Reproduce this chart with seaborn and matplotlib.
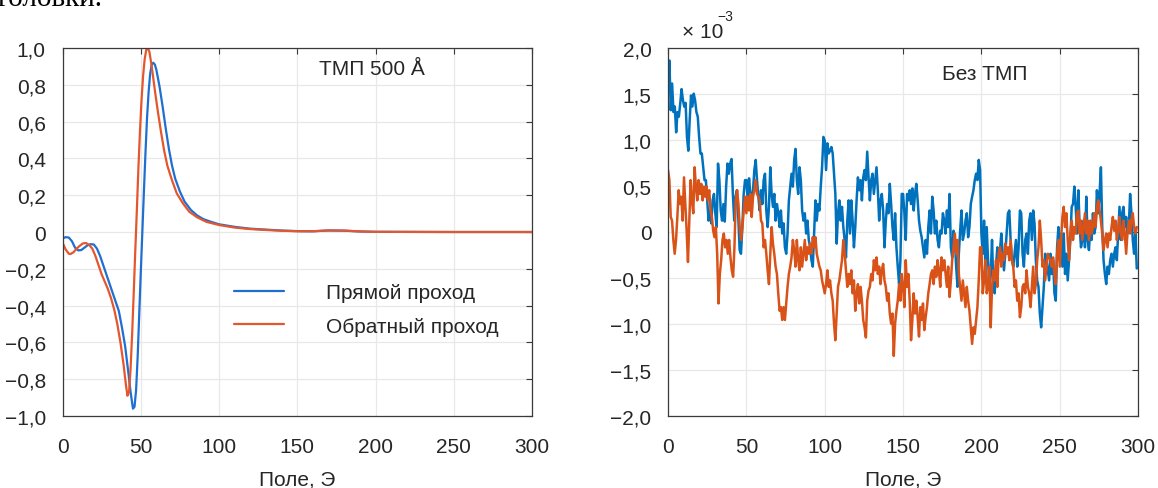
import numpy as np
import matplotlib
matplotlib.use("Agg")
import matplotlib.pyplot as plt
import seaborn as sns
from matplotlib.ticker import FuncFormatter, MultipleLocator

# ---- left panel: TMP 500 A (normalised signal vs field, Oe) ----
fwd_field = [0, 2, 4, 6, 8, 10, 12, 14, 16, 18, 20, 22, 24, 26, 28, 30, 32, 34, 36, 38,
             40, 42, 43.5, 45, 46, 47, 48, 49, 50, 51, 52, 53, 54, 55, 56, 57, 58, 59, 60,
             62, 64, 66, 68, 70, 72, 75, 78, 82, 86, 90, 95, 100, 110, 120, 130, 140, 150,
             160, 170, 180, 190, 200, 250, 300]
fwd_signal = [-0.035, -0.028, -0.03, -0.05, -0.085, -0.10, -0.098, -0.085, -0.072, -0.066,
              -0.068, -0.09, -0.13, -0.18, -0.23, -0.28, -0.33, -0.38, -0.43, -0.52,
              -0.62, -0.76, -0.87, -0.96, -0.95, -0.86, -0.68, -0.45, -0.22, 0.0, 0.22,
              0.43, 0.62, 0.76, 0.86, 0.91, 0.92, 0.91, 0.88, 0.79, 0.68, 0.56, 0.45, 0.36,
              0.29, 0.22, 0.165, 0.12, 0.09, 0.07, 0.055, 0.042, 0.028, 0.018, 0.013, 0.008,
              0.005, 0.004, 0.008, 0.007, 0.003, 0.001, 0.0, 0.0]

rev_field = [0, 2, 4, 5, 7, 9, 11, 13, 15, 17, 19, 21, 23, 25, 27, 29, 31, 33, 35, 37, 39,
             40.5, 41.5, 42.5, 43.5, 44.5, 45.5, 46.5, 47.5, 48.5, 49.5, 50.5, 51.5, 52.5,
             53.5, 54.5, 55.5, 57, 59, 61, 63, 65, 67, 70, 73, 77, 81, 86, 92, 100, 110,
             120, 130, 140, 150, 160, 170, 180, 190, 200, 250, 300]
rev_signal = [-0.058, -0.095, -0.118, -0.12, -0.11, -0.09, -0.075, -0.062, -0.06, -0.07,
              -0.09, -0.13, -0.18, -0.23, -0.27, -0.31, -0.36, -0.42, -0.50, -0.60, -0.72,
              -0.83, -0.89, -0.87, -0.74, -0.55, -0.33, -0.10, 0.12, 0.35, 0.55, 0.72, 0.85,
              0.94, 0.99, 1.0, 0.98, 0.90, 0.77, 0.65, 0.54, 0.44, 0.36, 0.28, 0.21, 0.155,
              0.11, 0.08, 0.055, 0.038, 0.024, 0.016, 0.011, 0.007, 0.004, 0.004, 0.009,
              0.008, 0.003, 0.001, 0.0, 0.0]

# ---- right panel: no TMP, values in units of 1e-3, read in 50 Oe pieces ----
fwd_0_50 = [1.54, 1.86, 1.32, 1.61, 1.30, 1.36, 1.08, 1.30, 1.25, 1.39, 1.55, 1.43, 1.36,
            1.40, 1.03, 0.88, 1.21, 1.48, 1.36, 1.50, 1.43, 1.30, 1.25, 1.03, 0.85, 0.85,
            0.70, 0.56, 0.56, 0.34, 0.12, 0.23, 0.09, 0.34, 0.41, 0.20, 0.05, 0.74, 0.56,
            0.23, 0.12, 0.30, 0.11, 0.49, 0.74, 0.63, 0.74, 0.79, 0.41, 0.12, 0.38, 0.45,
            0.16, -0.20, -0.24, 0.05, 0.41, 0.56]
fwd_50_100 = [0.56, 0.34, 0.58, 0.41, 0.34, 0.45, 0.67, 0.78, 0.56, 0.38, 0.23, 0.45, 0.30,
              0.56, 0.63, 0.23, 0.05, 0.27, 0.70, 0.41, 0.27, 0.41, 0.12, 0.30, 0.20, 0.05,
              0.23, -0.02, 0.09, -0.17, -0.24, -0.02, 0.34, 0.49, 0.63, 0.49, 0.78, 0.90,
              0.56, 0.41, 0.70, 0.56, 0.23, 0.12, 0.20, -0.02, 0.12, -0.09, -0.17, -0.31,
              -0.38, -0.02, 0.34, 0.12, 0.30, 0.23, 0.49, 0.70, 1.03]
fwd_100_150 = [0.99, 0.67, 0.96, 0.85, 0.88, 0.92, 0.85, 0.63, 0.41, -0.13, 0.20, 0.34,
               0.12, 0.27, 0.05, -0.09, -0.28, 0.12, 0.34, -0.02, 0.34, 0.12, -0.17, 0.05,
               0.34, 0.59, 0.45, 0.56, 0.34, 0.59, 0.67, 0.56, 0.87, 0.59, 0.34, 0.56, 0.63,
               0.41, 0.56, 0.70, 0.45, 0.12, 0.34, 0.41, 0.23, -0.17, 0.12, 0.30, 0.20, 0.52,
               0.30, 0.05, -0.09, 0.20, -0.17, -0.38, -0.57, -0.31, 0.41]
fwd_150_200 = [0.41, 0.20, -0.09, 0.41, 0.34, 0.45, 0.30, 0.47, 0.23, 0.41, 0.52, 0.34,
               0.12, 0.01, -0.06, -0.17, -0.28, -0.09, -0.24, 0.05, 0.23, -0.02, 0.38, 0.23,
               -0.02, 0.12, -0.09, -0.17, 0.01, -0.02, 0.20, 0.12, -0.02, 0.23, 0.05, 0.41,
               -0.17, -0.28, 0.01, -0.09, -0.38, -0.60, -0.24, 0.01, 0.23, -0.09, -0.02,
               0.12, 0.20, -0.06, 0.05, 0.30, 0.38, 0.45, 0.56, 0.63, 0.56, 0.78, 0.67]
fwd_200_250 = [-0.02, -0.24, 0.12, -0.38, 0.05, -0.31, -0.60, -0.46, -0.09, -0.60, -0.67,
               -0.38, -0.17, -0.31, -0.20, -0.02, -0.24, -0.42, -0.24, -0.02, 0.20, 0.23,
               -0.09, -0.31, -0.38, -0.24, -0.09, -0.38, -0.17, 0.23, 0.20, -0.24, -0.38,
               -0.09, -0.02, -0.24, 0.12, 0.20, -0.09, 0.23, 0.09, -0.31, -0.53, -0.60,
               -0.89, -1.04, -0.82, -0.60, -0.24, -0.31, -0.42, -0.53, -0.24, -0.46, -0.31,
               -0.67, -0.75, -0.17, 0.05]
fwd_250_300 = [-0.31, -0.02, -0.38, -0.02, -0.46, -0.24, -0.53, -0.31, -0.09, 0.27, 0.30,
               0.49, 0.27, -0.02, 0.45, 0.05, -0.17, -0.09, 0.12, -0.17, 0.38, -0.09, -0.20,
               0.05, -0.09, 0.20, -0.02, 0.05, 0.45, 0.20, 0.41, 0.70, 0.05, -0.31, -0.46,
               -0.57, -0.38, -0.46, -0.31, -0.24, -0.38, -0.24, -0.17, -0.31, -0.02, 0.27,
               -0.09, 0.20, 0.27, 0.05, 0.16, -0.02, 0.05, 0.41, 0.20, -0.09, -0.24, -0.02,
               -0.40]

rev_0_50 = [0.67, 0.56, 0.16, 0.12, -0.09, -0.24, -0.09, 0.16, 0.45, 0.30, 0.38, 0.12,
            0.59, 0.30, 0.01, -0.33, 0.12, 0.56, 0.34, 0.20, 0.70, 0.49, 0.34, 0.56, 0.41,
            0.52, 0.34, 0.49, 0.38, 0.49, 0.34, 0.45, 0.23, 0.16, 0.01, -0.06, 0.05, -0.24,
            -0.78, -0.46, -0.31, -0.09, -0.02, -0.17, -0.09, -0.24, -0.09, -0.28, -0.42,
            -0.49, -0.17, 0.34, 0.45, 0.30, 0.05, -0.09, 0.05, 0.23, 0.38]
rev_50_100 = [0.20, 0.38, 0.23, 0.41, 0.16, 0.38, 0.45, 0.56, 0.41, 0.38, 0.34, 0.12, 0.09,
              -0.17, -0.09, -0.24, -0.42, -0.57, -0.24, 0.05, -0.13, -0.24, -0.38, -0.46,
              -0.67, -0.86, -0.82, -0.96, -0.82, -0.96, -0.78, -0.60, -0.46, -0.38, -0.28,
              -0.09, -0.20, -0.38, -0.09, -0.31, -0.42, -0.17, -0.38, -0.24, -0.09, -0.31,
              -0.17, -0.24, -0.13, -0.24, -0.06, -0.17, -0.06, -0.24, -0.31, -0.38, -0.42,
              -0.53, -0.60]
rev_100_150 = [-0.67, -0.57, -0.42, -0.60, -0.53, -0.67, -0.75, -1.00, -1.18, -0.89, -0.60,
               -0.53, -0.42, -0.31, -0.09, -0.24, -0.42, -0.60, -0.46, -0.57, -0.42, -0.67,
               -0.53, -0.86, -0.67, -0.57, -0.78, -0.60, -0.75, -0.96, -1.04, -1.15, -0.75,
               -0.64, -0.60, -0.46, -0.53, -0.31, -0.42, -0.28, -0.46, -0.38, -0.57, -0.42,
               -0.35, -0.53, -0.60, -0.75, -0.67, -0.89, -1.00, -0.89, -1.35, -1.00, -0.86,
               -0.75, -0.57, -0.75, -0.46]
rev_150_200 = [-0.60, -0.82, -0.31, -0.60, -0.46, -0.75, -1.18, -0.96, -0.67, -0.89, -0.75,
               -0.93, -1.14, -0.82, -0.96, -0.78, -1.07, -0.93, -0.82, -0.67, -0.57, -0.46,
               -0.42, -0.57, -0.38, -0.49, -0.31, -0.42, -0.60, -0.28, -0.42, -0.31, -0.46,
               -0.60, -0.38, -0.71, -0.53, -0.31, -0.17, -0.02, -0.24, -0.09, -0.46, -0.60,
               -0.75, -0.53, -0.67, -0.82, -0.60, -0.75, -0.86, -1.04, -1.22, -1.04, -1.11,
               -0.96, -0.82, -0.53, -0.17]
rev_200_250 = [-0.17, -0.67, -0.53, -0.31, -0.67, -0.60, -0.38, -1.04, -0.60, -0.42, -0.53,
               -0.31, -0.60, -0.24, -0.17, -0.38, -0.24, -0.31, -0.13, -0.24, -0.17, -0.31,
               -0.09, -0.31, -0.38, -0.60, -0.53, -0.75, -0.67, -0.93, -0.82, -0.60, -0.57,
               -0.67, -0.42, -0.60, -0.67, -0.82, -0.60, -0.38, -0.67, -0.57, -0.31, -0.17,
               0.12, -0.09, -0.38, -0.31, -0.53, -0.38, -0.24, -0.28, -0.31, -0.38, -0.28,
               -0.46, -0.57, -0.24, -0.09]
rev_250_300 = [-0.38, -0.09, 0.16, 0.27, 0.05, 0.20, -0.09, -0.31, -0.02, 0.12, -0.09, 0.05,
               -0.02, 0.20, 0.23, -0.02, 0.12, -0.09, 0.05, 0.20, -0.02, 0.12, -0.09, 0.12,
               -0.02, 0.05, 0.20, 0.05, 0.27, 0.34, 0.23, 0.12, -0.02, -0.20, -0.09, -0.02,
               -0.17, -0.02, -0.09, 0.05, 0.16, 0.01, 0.12, -0.09, 0.01, 0.16, -0.02, -0.09,
               0.12, -0.02, -0.24, -0.02, 0.12, -0.02, 0.12, 0.20, 0.05, -0.02, 0.05]

fwd_pieces = [fwd_0_50, fwd_50_100, fwd_100_150, fwd_150_200, fwd_200_250, fwd_250_300]
rev_pieces = [rev_0_50, rev_50_100, rev_100_150, rev_150_200, rev_200_250, rev_250_300]


def join_pieces(pieces):
    xs, ys = [], []
    for k, p in enumerate(pieces):
        xs.append(np.linspace(50 * k, 50 * (k + 1), len(p), endpoint=False))
        ys.append(p)
    return np.concatenate(xs), np.concatenate(ys)


noise_fwd_x, noise_fwd_y = join_pieces(fwd_pieces)
noise_rev_x, noise_rev_y = join_pieces(rev_pieces)

sns.set_theme(style="whitegrid")
plt.rcParams["font.family"] = ["Liberation Sans Narrow", "Liberation Sans", "DejaVu Sans"]
plt.rcParams["axes.unicode_minus"] = True

FS = 15
TXT = "#262626"


def comma(v, pos):
    if abs(v) < 1e-9:
        return "0"
    return ("%.1f" % v).replace(".", ",").replace("-", "\u2212")


def style_axes(ax):
    ax.set_facecolor("white")
    ax.grid(True, color="#e8e8e8", linewidth=0.9)
    for s in ax.spines.values():
        s.set_color("#3a3a3a")
        s.set_linewidth(0.9)
    ax.tick_params(direction="in", length=4, width=0.8, color="#3a3a3a",
                   top=True, right=True, labelsize=FS, labelcolor=TXT, pad=12)
    ax.tick_params(axis="x", pad=15)
    ax.xaxis.set_major_locator(MultipleLocator(50))
    ax.xaxis.set_major_formatter(FuncFormatter(lambda v, p: "%d" % round(v)))
    ax.set_xlim(0, 300)
    ax.set_xlabel("Поле, Э", fontsize=FS, color=TXT, labelpad=10)


fig = plt.figure(figsize=(11.58, 4.89), dpi=100)
fig.patch.set_facecolor("white")

# cropped document text above the figure
fig.text(-0.002, 0.9877, "головки.", family=["Liberation Serif", "DejaVu Serif"],
         fontsize=21, color="black", va="baseline", ha="left")

ax1 = fig.add_axes([0.054, 0.1472, 0.4054, 0.7526])
sns.lineplot(x=fwd_field, y=fwd_signal, ax=ax1, color="#1f6fd1", linewidth=1.6,
             label="Прямой проход")
sns.lineplot(x=rev_field, y=rev_signal, ax=ax1, color="#e4572e", linewidth=1.6,
             label="Обратный проход")
style_axes(ax1)
ax1.set_ylim(-1, 1)
ax1.yaxis.set_major_locator(MultipleLocator(0.2))
ax1.yaxis.set_major_formatter(FuncFormatter(comma))
ax1.set_ylabel("")
ax1.text(198, 0.89, "ТМП 500 Å", fontsize=FS, color=TXT, ha="center", va="center")
ax1.legend(frameon=False, loc="center left", bbox_to_anchor=(0.365, 0.29),
           borderaxespad=0, borderpad=0, handlelength=2.4, handletextpad=2.0,
           labelspacing=0.7, fontsize=FS, labelcolor=TXT)

ax2 = fig.add_axes([0.5769, 0.1479, 0.4059, 0.7526])
sns.lineplot(x=noise_fwd_x, y=noise_fwd_y, ax=ax2, color="#0072BD", linewidth=1.8)
sns.lineplot(x=noise_rev_x, y=noise_rev_y, ax=ax2, color="#D95319", linewidth=1.8)
style_axes(ax2)
ax2.set_ylim(-2, 2)
ax2.yaxis.set_major_locator(MultipleLocator(0.5))
ax2.yaxis.set_major_formatter(FuncFormatter(comma))
ax2.set_ylabel("")
ax2.text(202, 1.72, "Без ТМП", fontsize=FS, color=TXT, ha="center", va="center")
ax2.text(0.03, 1.03, "× 10", transform=ax2.transAxes, fontsize=FS, color=TXT,
         va="baseline", ha="left")
ax2.text(0.104, 1.075, "\u22123", transform=ax2.transAxes, fontsize=10, color=TXT,
         va="baseline", ha="left")

fig.savefig("out.png", dpi=100, facecolor="white")
